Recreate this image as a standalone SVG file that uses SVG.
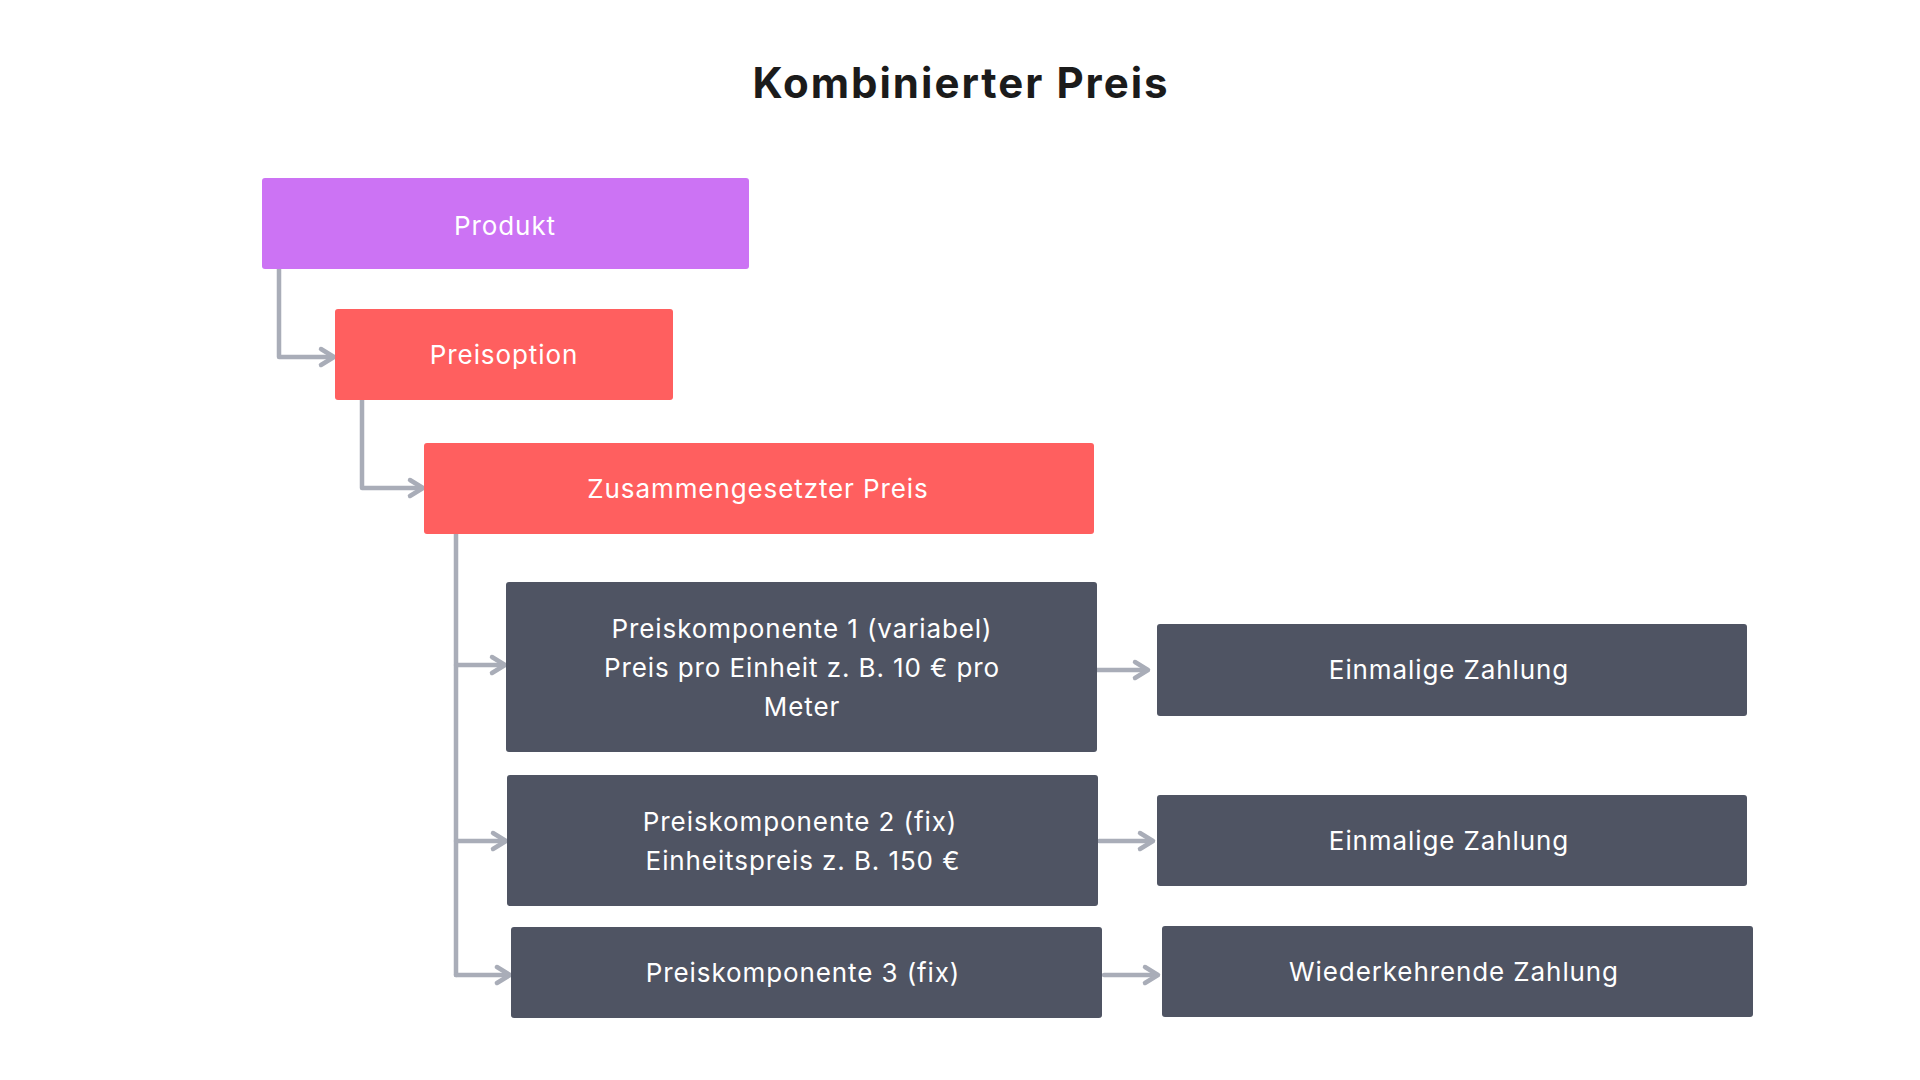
<svg xmlns="http://www.w3.org/2000/svg" width="1920" height="1080" viewBox="0 0 1920 1080">
<style>
.title{font-family:Inter,"Liberation Sans",sans-serif;font-weight:700;font-size:42px;fill:#1b1b1b;text-anchor:middle;letter-spacing:2px}
.lbl{font-family:Inter,"Liberation Sans",sans-serif;font-size:26px;fill:#ffffff;text-anchor:middle;letter-spacing:0.9px}
.purple{fill:#cc73f4}
.red{fill:#ff5f5f}
.dark{fill:#4f5463}
.conn{fill:none;stroke:#a9adb8;stroke-width:4.5;stroke-linecap:round;stroke-linejoin:round}
</style>
<rect width="1920" height="1080" fill="#ffffff"/>
<text class="title" x="961" y="98">Kombinierter Preis</text>
<g id="connectors">
<path class="conn" d="M279 269 V357 H333"/>
<path class="conn" d="M321 349 L334 357 L321 365"/>
<path class="conn" d="M362 400 V488 H422"/>
<path class="conn" d="M410 480 L423 488 L410 496"/>
<path class="conn" d="M456 534 V975"/>
<path class="conn" d="M456 665 H504"/>
<path class="conn" d="M492 657 L505 665 L492 673"/>
<path class="conn" d="M456 841 H505"/>
<path class="conn" d="M493 833 L506 841 L493 849"/>
<path class="conn" d="M456 975 H509"/>
<path class="conn" d="M497 967 L510 975 L497 983"/>
<path class="conn" d="M1097 670 H1147"/>
<path class="conn" d="M1135 662 L1148 670 L1135 678"/>
<path class="conn" d="M1099 841 H1152"/>
<path class="conn" d="M1140 833 L1153 841 L1140 849"/>
<path class="conn" d="M1104 975 H1157"/>
<path class="conn" d="M1145 967 L1158 975 L1145 983"/>
</g>
<g id="produkt"><rect class="purple" x="262" y="178" width="487" height="91" rx="3"/><text class="lbl" x="505" y="235">Produkt</text></g>
<g id="preisoption"><rect class="red" x="335" y="309" width="338" height="91" rx="3"/><text class="lbl" x="504" y="364">Preisoption</text></g>
<g id="zusammengesetzt"><rect class="red" x="424" y="443" width="670" height="91" rx="3"/><text class="lbl" x="758" y="498">Zusammengesetzter Preis</text></g>
<g id="pk1"><rect class="dark" x="506" y="582" width="591" height="170" rx="3"/><text class="lbl" x="802" y="638">Preiskomponente 1 (variabel)</text><text class="lbl" x="802" y="677">Preis pro Einheit z. B. 10 € pro</text><text class="lbl" x="802" y="716">Meter</text></g>
<g id="pk2"><rect class="dark" x="507" y="775" width="591" height="131" rx="3"/><text class="lbl" x="800" y="831">Preiskomponente 2 (fix)</text><text class="lbl" x="803" y="870">Einheitspreis z. B. 150 €</text></g>
<g id="pk3"><rect class="dark" x="511" y="927" width="591" height="91" rx="3"/><text class="lbl" x="803" y="982">Preiskomponente 3 (fix)</text></g>
<g id="einmalig1"><rect class="dark" x="1157" y="624" width="590" height="92" rx="3"/><text class="lbl" x="1449" y="679">Einmalige Zahlung</text></g>
<g id="einmalig2"><rect class="dark" x="1157" y="795" width="590" height="91" rx="3"/><text class="lbl" x="1449" y="850">Einmalige Zahlung</text></g>
<g id="wiederkehrend"><rect class="dark" x="1162" y="926" width="591" height="91" rx="3"/><text class="lbl" x="1454" y="981">Wiederkehrende Zahlung</text></g>
</svg>
